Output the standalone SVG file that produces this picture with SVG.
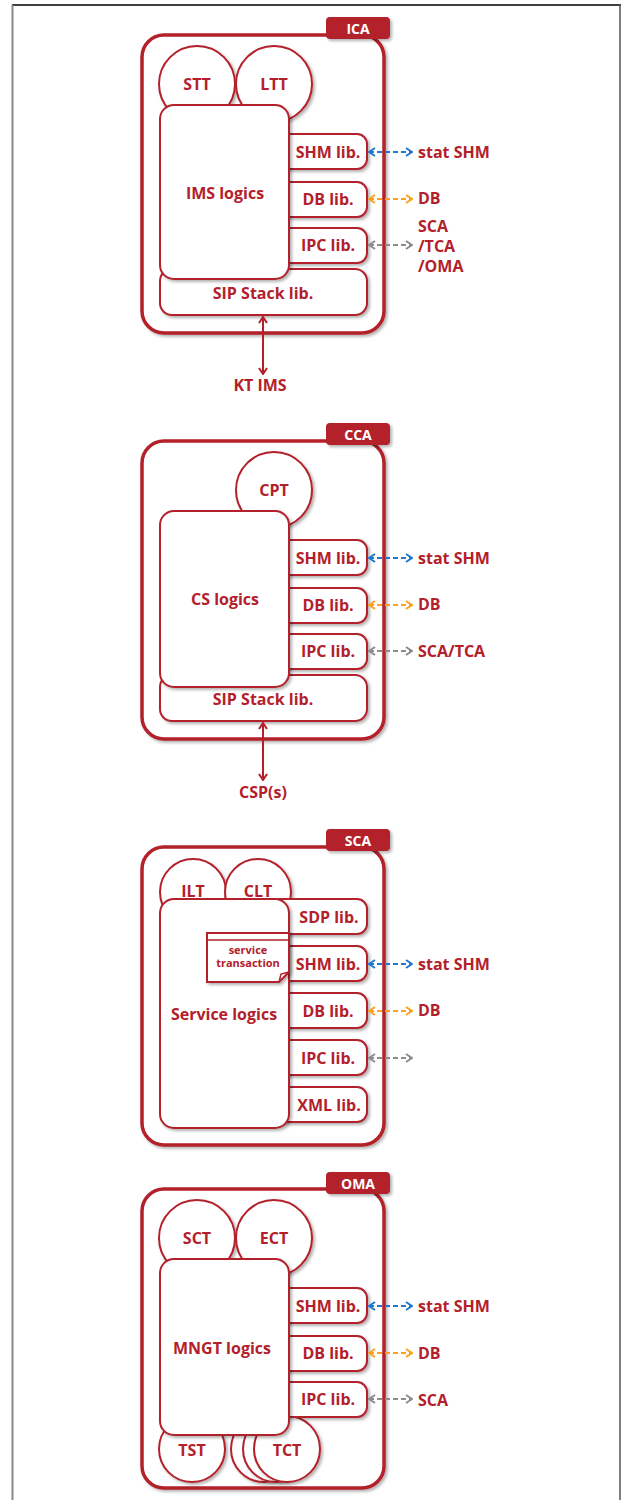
<svg xmlns="http://www.w3.org/2000/svg" width="621" height="1500" viewBox="0 0 621 1500">
  <defs>
    <filter id="shadow" x="-10%" y="-10%" width="130%" height="130%">
      <feDropShadow dx="2" dy="2" stdDeviation="1.5" flood-color="#000" flood-opacity="0.3"/>
    </filter>
    <marker id="m-red" viewBox="0 0 10 10" refX="9" refY="5" markerWidth="10" markerHeight="10" markerUnits="userSpaceOnUse" orient="auto-start-reverse">
      <path d="M3,1 L9,5 L3,9" fill="none" stroke="#b3202a" stroke-width="2"/>
    </marker>
    <marker id="m-blue" viewBox="0 0 10 10" refX="9" refY="5" markerWidth="10" markerHeight="10" markerUnits="userSpaceOnUse" orient="auto-start-reverse">
      <path d="M3,1 L9,5 L3,9" fill="none" stroke="#1f78d1" stroke-width="2"/>
    </marker>
    <marker id="m-orange" viewBox="0 0 10 10" refX="9" refY="5" markerWidth="10" markerHeight="10" markerUnits="userSpaceOnUse" orient="auto-start-reverse">
      <path d="M3,1 L9,5 L3,9" fill="none" stroke="#ff9f1c" stroke-width="2"/>
    </marker>
    <marker id="m-gray" viewBox="0 0 10 10" refX="9" refY="5" markerWidth="10" markerHeight="10" markerUnits="userSpaceOnUse" orient="auto-start-reverse">
      <path d="M3,1 L9,5 L3,9" fill="none" stroke="#8c8c8c" stroke-width="2"/>
    </marker>
  </defs>
  <style>
    text { font-family: "Open Sans", "Noto Sans", "DejaVu Sans", sans-serif; font-weight: bold; fill: #b3202a; font-size: 16px; dominant-baseline: central; }
    .c { text-anchor: middle; }
    .tabtxt { fill: #ffffff; font-size: 14px; text-anchor: middle; }
    .small { font-size: 11px; text-anchor: middle; }
    .box { fill: #ffffff; stroke: #b3202a; stroke-width: 2; filter: url(#shadow); }
    .outer { fill: #ffffff; stroke: #b3202a; stroke-width: 3.5; filter: url(#shadow); }
    .tab { fill: #b3202a; filter: url(#shadow); }
    .dash { fill: none; stroke-width: 2; stroke-dasharray: 5 3; }
    .blue { stroke: #1f78d1; marker-start: url(#m-blue); marker-end: url(#m-blue); }
    .orange { stroke: #ff9f1c; marker-start: url(#m-orange); marker-end: url(#m-orange); }
    .gray { stroke: #8c8c8c; marker-start: url(#m-gray); marker-end: url(#m-gray); }
    .solid { fill: none; stroke: #b3202a; stroke-width: 2; marker-start: url(#m-red); marker-end: url(#m-red); }
  </style>

  <rect x="0" y="0" width="621" height="1500" fill="#ffffff"/>
  <!-- page frame -->
  <line x1="12" y1="5" x2="621" y2="5" stroke="#000" stroke-width="1.5"/>
  <line x1="12.5" y1="5" x2="12.5" y2="1500" stroke="#888" stroke-width="2"/>
  <line x1="620" y1="5" x2="620" y2="1500" stroke="#555" stroke-width="1.5"/>

  <!-- ICA -->
  <g id="ica">
    <g id="ica-frame">
      <rect class="outer" x="142" y="35" width="242" height="298" rx="22"/>
      <rect class="tab" x="326" y="17" width="64" height="22" rx="4"/>
      <text class="tabtxt" x="358" y="28">ICA</text>
    </g>
    <g id="ica-stt"><circle class="box" cx="197" cy="84" r="38"/><text class="c" x="197" y="84">STT</text></g>
    <g id="ica-ltt"><circle class="box" cx="274" cy="84" r="38"/><text class="c" x="274" y="84">LTT</text></g>
    <g id="ica-shm"><rect class="box" x="270" y="134" width="97" height="35" rx="10"/><text class="c" x="328" y="152">SHM lib.</text></g>
    <g id="ica-db"><rect class="box" x="270" y="182" width="97" height="35" rx="10"/><text class="c" x="328" y="199">DB lib.</text></g>
    <g id="ica-ipc"><rect class="box" x="270" y="228" width="97" height="35" rx="10"/><text class="c" x="328" y="245">IPC lib.</text></g>
    <g id="ica-sip"><rect class="box" x="160" y="269" width="207" height="46" rx="12"/><text class="c" x="263" y="293">SIP Stack lib.</text></g>
    <g id="ica-logic"><rect class="box" x="160" y="105" width="129" height="174" rx="14"/><text class="c" x="225" y="193">IMS logics</text></g>
    <g id="ica-ext">
      <text x="418" y="152">stat SHM</text>
      <text x="418" y="198">DB</text>
      <text x="418" y="226">SCA</text>
      <text x="418" y="246">/TCA</text>
      <text x="418" y="266">/OMA</text>
      <text class="c" x="260" y="385">KT IMS</text>
    </g>
  </g>

  <!-- CCA -->
  <g id="cca" transform="translate(0,406)">
    <g id="cca-frame">
      <rect class="outer" x="142" y="35" width="242" height="298" rx="22"/>
      <rect class="tab" x="326" y="17" width="64" height="22" rx="4"/>
      <text class="tabtxt" x="358" y="28">CCA</text>
    </g>
    <g id="cca-cpt"><circle class="box" cx="274" cy="84" r="38"/><text class="c" x="274" y="84">CPT</text></g>
    <g id="cca-shm"><rect class="box" x="270" y="134" width="97" height="35" rx="10"/><text class="c" x="328" y="152">SHM lib.</text></g>
    <g id="cca-db"><rect class="box" x="270" y="182" width="97" height="35" rx="10"/><text class="c" x="328" y="199">DB lib.</text></g>
    <g id="cca-ipc"><rect class="box" x="270" y="228" width="97" height="35" rx="10"/><text class="c" x="328" y="245">IPC lib.</text></g>
    <g id="cca-sip"><rect class="box" x="160" y="269" width="207" height="46" rx="12"/><text class="c" x="263" y="293">SIP Stack lib.</text></g>
    <g id="cca-logic"><rect class="box" x="160" y="105" width="129" height="176" rx="14"/><text class="c" x="225" y="193">CS logics</text></g>
    <g id="cca-ext">
      <text x="418" y="152">stat SHM</text>
      <text x="418" y="198">DB</text>
      <text x="418" y="245">SCA/TCA</text>
      <text class="c" x="263" y="386">CSP(s)</text>
    </g>
  </g>

  <!-- SCA -->
  <g id="sca" transform="translate(0,812)">
    <g id="sca-frame">
      <rect class="outer" x="142" y="35" width="242" height="298" rx="22"/>
      <rect class="tab" x="326" y="17" width="64" height="22" rx="4"/>
      <text class="tabtxt" x="358" y="28">SCA</text>
    </g>
    <g id="sca-ilt"><circle class="box" cx="193" cy="80" r="33"/><text class="c" x="193" y="79">ILT</text></g>
    <g id="sca-clt"><circle class="box" cx="258" cy="80" r="33"/><text class="c" x="258" y="79">CLT</text></g>
    <g id="sca-sdp"><rect class="box" x="270" y="87" width="97" height="35" rx="10"/><text class="c" x="329" y="105">SDP lib.</text></g>
    <g id="sca-shm"><rect class="box" x="270" y="134" width="97" height="35" rx="10"/><text class="c" x="328" y="152">SHM lib.</text></g>
    <g id="sca-db"><rect class="box" x="270" y="181" width="97" height="35" rx="10"/><text class="c" x="328" y="199">DB lib.</text></g>
    <g id="sca-ipc"><rect class="box" x="270" y="228" width="97" height="35" rx="10"/><text class="c" x="328" y="246">IPC lib.</text></g>
    <g id="sca-xml"><rect class="box" x="270" y="275" width="97" height="35" rx="10"/><text class="c" x="329" y="293">XML lib.</text></g>
    <g id="sca-logic"><rect class="box" x="160" y="87" width="129" height="229" rx="14"/><text class="c" x="224" y="202">Service logics</text></g>
    <g id="sca-note">
      <path class="box" d="M207,121 H289 V160 L279,170 H207 Z"/>
      <path d="M279,170 L281,162 L289,160" fill="none" stroke="#b3202a" stroke-width="1.5"/>
      <line x1="207" y1="128" x2="289" y2="128" stroke="#b3202a" stroke-width="1.5"/>
      <text class="small" x="248" y="137">service</text>
      <text class="small" x="248" y="150">transaction</text>
    </g>
    <g id="sca-ext">
      <text x="418" y="152">stat SHM</text>
      <text x="418" y="198">DB</text>
    </g>
  </g>

  <!-- OMA -->
  <g id="oma" transform="translate(0,1154)">
    <g id="oma-frame">
      <rect class="outer" x="142" y="35" width="242" height="299" rx="22"/>
      <rect class="tab" x="326" y="18" width="64" height="22" rx="4"/>
      <text class="tabtxt" x="358" y="29">OMA</text>
    </g>
    <g id="oma-sct"><circle class="box" cx="197" cy="84" r="38"/><text class="c" x="197" y="84">SCT</text></g>
    <g id="oma-ect"><circle class="box" cx="274" cy="84" r="38"/><text class="c" x="274" y="84">ECT</text></g>
    <g id="oma-tst"><circle class="box" cx="192" cy="295" r="33"/><text class="c" x="192" y="296">TST</text></g>
    <g id="oma-tct">
      <circle class="box" cx="264" cy="295" r="33"/>
      <circle class="box" cx="276" cy="295" r="33"/>
      <circle class="box" cx="287" cy="295" r="33"/>
      <text class="c" x="287" y="296">TCT</text>
    </g>
    <g id="oma-shm"><rect class="box" x="270" y="134" width="97" height="35" rx="10"/><text class="c" x="328" y="152">SHM lib.</text></g>
    <g id="oma-db"><rect class="box" x="270" y="182" width="97" height="35" rx="10"/><text class="c" x="328" y="199">DB lib.</text></g>
    <g id="oma-ipc"><rect class="box" x="270" y="228" width="97" height="35" rx="10"/><text class="c" x="328" y="245">IPC lib.</text></g>
    <g id="oma-logic"><rect class="box" x="160" y="105" width="129" height="176" rx="14"/><text class="c" x="222" y="194">MNGT logics</text></g>
    <g id="oma-ext">
      <text x="418" y="152">stat SHM</text>
      <text x="418" y="199">DB</text>
      <text x="418" y="246">SCA</text>
    </g>
  </g>

  <!-- connectors -->
  <g id="connectors">
    <line class="dash blue" x1="369" y1="152" x2="412" y2="152"/>
    <line class="dash orange" x1="369" y1="199" x2="412" y2="199"/>
    <line class="dash gray" x1="369" y1="245" x2="412" y2="245"/>
    <line class="solid" x1="263" y1="317" x2="263" y2="374"/>

    <line class="dash blue" x1="369" y1="558" x2="412" y2="558"/>
    <line class="dash orange" x1="369" y1="605" x2="412" y2="605"/>
    <line class="dash gray" x1="369" y1="651" x2="412" y2="651"/>
    <line class="solid" x1="263" y1="723" x2="263" y2="780"/>

    <line class="dash blue" x1="369" y1="964" x2="412" y2="964"/>
    <line class="dash orange" x1="369" y1="1011" x2="412" y2="1011"/>
    <line class="dash gray" x1="369" y1="1058" x2="412" y2="1058"/>

    <line class="dash blue" x1="369" y1="1306" x2="412" y2="1306"/>
    <line class="dash orange" x1="369" y1="1353" x2="412" y2="1353"/>
    <line class="dash gray" x1="369" y1="1399" x2="412" y2="1399"/>
  </g>
</svg>
